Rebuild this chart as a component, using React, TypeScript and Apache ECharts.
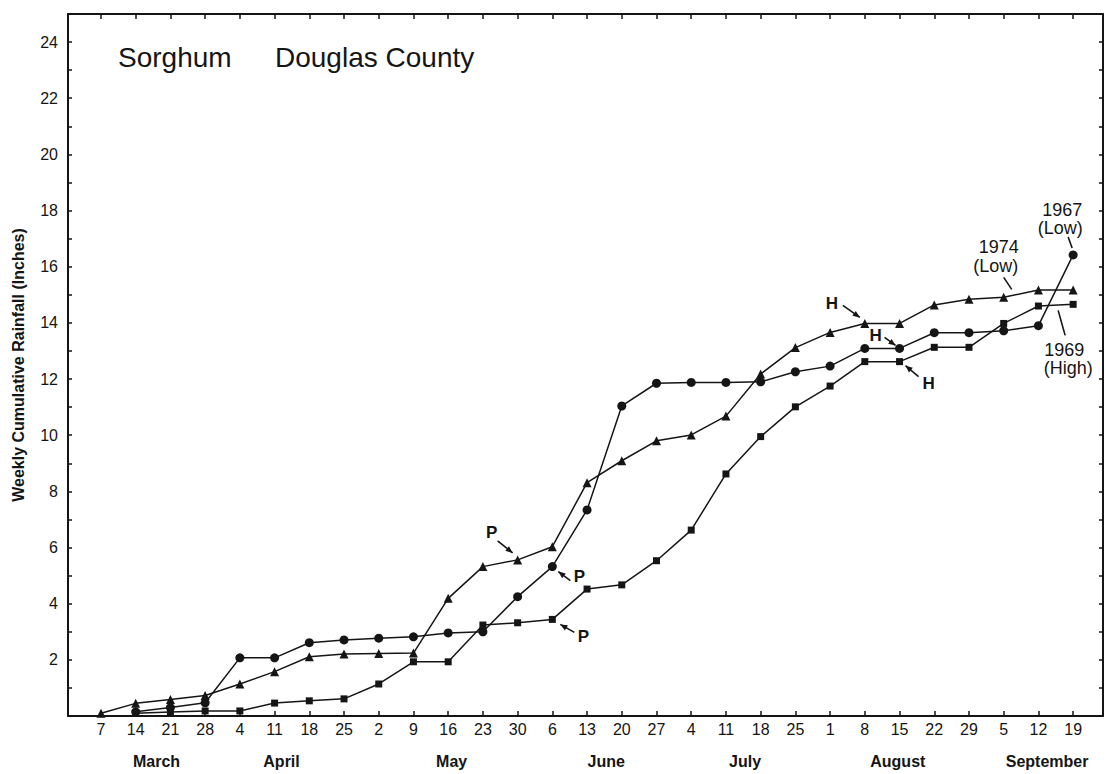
import React, { useEffect, useRef } from "react";
import * as echarts from "echarts";

// Week-ending days, March 7 through September 19
const weekLabels = [
  "7", "14", "21", "28",
  "4", "11", "18", "25",
  "2", "9", "16", "23", "30",
  "6", "13", "20", "27",
  "4", "11", "18", "25",
  "1", "8", "15", "22", "29",
  "5", "12", "19",
];
const weekIndex = weekLabels.map((_, i) => i);

const monthNames = ["March", "April", "May", "June", "July", "August", "September"];
const monthCentres = [1.6, 5.2, 10.1, 14.55, 18.55, 22.95, 27.25];

// Weekly cumulative rainfall, inches (null = season not yet started)
const rain1967: (number | null)[] = [
  null, 0.15, 0.3, 0.47,
  2.07, 2.07, 2.61, 2.71,
  2.77, 2.82, 2.96, 3.0, 4.25,
  5.32, 7.34, 11.04, 11.85,
  11.88, 11.88, 11.9, 12.26,
  12.46, 13.09, 13.09, 13.65, 13.65,
  13.72, 13.9, 16.42,
];
const rain1974: (number | null)[] = [
  0.1, 0.45, 0.59, 0.73,
  1.14, 1.58, 2.11, 2.21,
  2.23, 2.24, 4.19, 5.32, 5.56,
  6.03, 8.31, 9.09, 9.8,
  10.01, 10.68, 12.18, 13.12,
  13.66, 13.98, 13.98, 14.64, 14.84,
  14.91, 15.17, 15.17,
];
const rain1969: (number | null)[] = [
  null, 0.1, 0.14, 0.18,
  0.18, 0.46, 0.54, 0.61,
  1.14, 1.93, 1.93, 3.24, 3.32,
  3.44, 4.52, 4.67, 5.53,
  6.62, 8.62, 9.95, 11.01,
  11.75, 12.62, 12.62, 13.13, 13.13,
  13.98, 14.6, 14.66,
];

const FONT = "'Liberation Sans', Arial, Helvetica, sans-serif";
const INK = "#151515";

const toPairs = (vals: (number | null)[]) =>
  vals
    .map((v, i) => (v === null ? null : [i, v]))
    .filter((p) => p !== null) as number[][];

// Planting (P) / harvest (H) arrows, offsets relative to the marked point
const arrowNotes = [
  { text: "P", series: 1, week: 12, label: [-26, -27], from: [-20, -19], to: [-5, -7] },
  { text: "P", series: 0, week: 13, label: [27, 10], from: [18, 14], to: [6, 5] },
  { text: "P", series: 2, week: 13, label: [31, 17], from: [22, 13], to: [8, 5] },
  { text: "H", series: 1, week: 22, label: [-33, -20], from: [-22, -18], to: [-5, -6] },
  { text: "H", series: 0, week: 23, label: [-24, -13], from: [-15, -11], to: [-4, -3] },
  { text: "H", series: 2, week: 23, label: [29, 22], from: [19, 15], to: [6, 4] },
];

// Year captions with leader lines
const yearNotes = [
  { lines: ["1967", "(Low)"], series: 0, week: 28, label: [[-11, -45], [-13, -27]], from: [-5, -18], to: [-1, -7] },
  { lines: ["1974", "(Low)"], series: 1, week: 26, label: [[-5, -50], [-8, -31]], from: [0, -20], to: [8, -8] },
  { lines: ["1969", "(High)"], series: 2, week: 28, label: [[-9, 46], [-5, 64]], from: [-15, 6], to: [-8, 31] },
];

const baseXAxis = {
  type: "value" as const,
  min: -0.95,
  max: 28.86,
  splitLine: { show: false },
  axisLine: { show: true, onZero: false, lineStyle: { color: INK, width: 2 } },
};

const baseYAxis = {
  type: "value" as const,
  min: 0,
  max: 25,
  interval: 1,
  splitLine: { show: false },
  axisLine: { show: true, onZero: false, lineStyle: { color: INK, width: 2 } },
  axisTick: { show: true, inside: true, length: 4, lineStyle: { color: INK, width: 1.5 } },
};

const lineSeries = (name: string, data: (number | null)[], symbol: string, size: number) => ({
  name,
  type: "line" as const,
  data: toPairs(data),
  symbol,
  symbolSize: size,
  showSymbol: true,
  xAxisIndex: 0,
  yAxisIndex: 0,
  itemStyle: { color: INK },
  lineStyle: { color: INK, width: 1.5 },
  emphasis: { disabled: true },
  z: 3,
});

export default function App() {
  const ref = useRef<HTMLDivElement>(null);

  useEffect(() => {
    if (!ref.current) return;
    const chart = echarts.init(ref.current, null, { renderer: "svg" });

    chart.setOption({
      animation: false,
      backgroundColor: "#ffffff",
      textStyle: { fontFamily: FONT },
      grid: {
        left: 68,
        top: 14,
        width: 1035,
        height: 702,
        containLabel: false,
        outerBoundsMode: "none",
      },
      xAxis: [
        {
          ...baseXAxis,
          position: "bottom",
          axisTick: {
            show: true,
            inside: true,
            length: 5,
            customValues: weekIndex,
            lineStyle: { color: INK, width: 1.5 },
          },
          axisLabel: {
            show: true,
            customValues: weekIndex,
            formatter: (v: number) => weekLabels[Math.round(v)] ?? "",
            color: INK,
            fontSize: 16,
            fontFamily: FONT,
            margin: 5,
          },
        },
        {
          ...baseXAxis,
          position: "top",
          axisTick: {
            show: true,
            inside: true,
            length: 5,
            customValues: weekIndex,
            lineStyle: { color: INK, width: 1.5 },
          },
          axisLabel: { show: false },
        },
        {
          ...baseXAxis,
          position: "bottom",
          axisLine: { show: false, onZero: false },
          axisTick: { show: false },
          axisLabel: {
            show: true,
            customValues: monthCentres,
            formatter: (v: number) => {
              const k = monthCentres.findIndex((c) => Math.abs(c - v) < 0.01);
              return k >= 0 ? monthNames[k] : "";
            },
            color: INK,
            fontSize: 16,
            fontWeight: "bold",
            fontFamily: FONT,
            margin: 37,
          },
        },
      ],
      yAxis: [
        {
          ...baseYAxis,
          position: "left",
          axisLabel: {
            show: true,
            formatter: (v: number) => (v > 0 && v % 2 === 0 ? String(v) : ""),
            color: INK,
            fontSize: 16,
            fontFamily: FONT,
            margin: 10,
          },
          name: "Weekly Cumulative Rainfall (Inches)",
          nameLocation: "middle",
          nameGap: 42,
          nameTextStyle: { color: INK, fontSize: 16, fontWeight: "bold", fontFamily: FONT },
        },
        {
          ...baseYAxis,
          position: "right",
          axisLabel: { show: false },
        },
      ],
      series: [
        lineSeries("1967 (Low)", rain1967, "circle", 9),
        lineSeries("1974 (Low)", rain1974, "triangle", 9),
        lineSeries("1969 (High)", rain1969, "rect", 7),
      ],
    });

    const seriesData = [rain1967, rain1974, rain1969];
    const px = (s: number, week: number) =>
      chart.convertToPixel({ seriesIndex: s }, [week, seriesData[s][week] as number]) as number[];

    const graphics: any[] = [
      {
        type: "text",
        left: 118,
        top: 43,
        style: { text: "Sorghum", fontSize: 28, fontFamily: FONT, fill: INK },
      },
      {
        type: "text",
        left: 275,
        top: 43,
        style: { text: "Douglas County", fontSize: 28, fontFamily: FONT, fill: INK },
      },
    ];

    const arrowHead = (x1: number, y1: number, x2: number, y2: number) => {
      const dx = x2 - x1;
      const dy = y2 - y1;
      const len = Math.hypot(dx, dy) || 1;
      const ux = dx / len;
      const uy = dy / len;
      const L = 7;
      const W = 3;
      return [
        [x2, y2],
        [x2 - ux * L - uy * W, y2 - uy * L + ux * W],
        [x2 - ux * L + uy * W, y2 - uy * L - ux * W],
      ];
    };

    arrowNotes.forEach((n) => {
      const [x, y] = px(n.series, n.week);
      const x1 = x + n.from[0];
      const y1 = y + n.from[1];
      const x2 = x + n.to[0];
      const y2 = y + n.to[1];
      graphics.push({
        type: "text",
        x: x + n.label[0],
        y: y + n.label[1],
        style: {
          text: n.text,
          fontSize: 17,
          fontWeight: "bold",
          fontFamily: FONT,
          fill: INK,
          align: "center",
          verticalAlign: "middle",
        },
        z: 10,
      });
      graphics.push({
        type: "line",
        shape: { x1, y1, x2, y2 },
        style: { stroke: INK, lineWidth: 1.6 },
        z: 10,
      });
      graphics.push({
        type: "polygon",
        shape: { points: arrowHead(x1, y1, x2, y2) },
        style: { fill: INK },
        z: 10,
      });
    });

    yearNotes.forEach((n) => {
      const [x, y] = px(n.series, n.week);
      n.lines.forEach((t, k) => {
        graphics.push({
          type: "text",
          x: x + n.label[k][0],
          y: y + n.label[k][1],
          style: {
            text: t,
            fontSize: 18,
            fontFamily: FONT,
            fill: INK,
            align: "center",
            verticalAlign: "middle",
          },
          z: 10,
        });
      });
      graphics.push({
        type: "line",
        shape: { x1: x + n.from[0], y1: y + n.from[1], x2: x + n.to[0], y2: y + n.to[1] },
        style: { stroke: INK, lineWidth: 1.6 },
        z: 10,
      });
    });

    chart.setOption({ graphic: graphics });

    return () => chart.dispose();
  }, []);

  return (
    <div
      ref={ref}
      style={{ position: "absolute", left: 0, top: 0, width: 1106, height: 774, background: "#ffffff" }}
    />
  );
}
